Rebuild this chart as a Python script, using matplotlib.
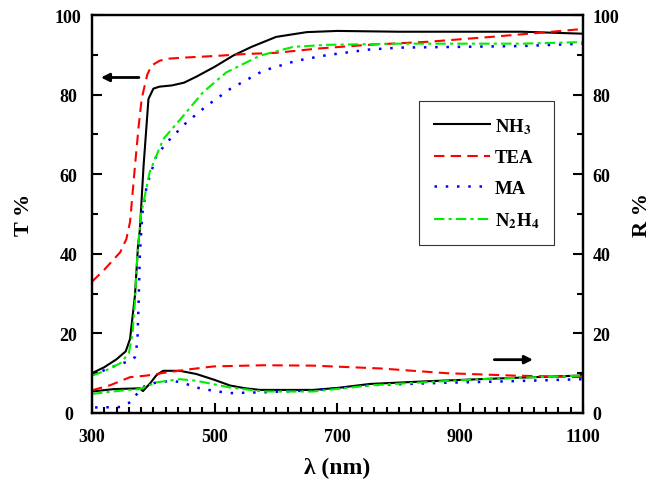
import matplotlib
matplotlib.use("Agg")
import matplotlib.pyplot as plt
from matplotlib.ticker import MultipleLocator, FixedLocator

plt.rcParams['font.family'] = 'Liberation Serif'
plt.rcParams['font.weight'] = 'bold'
plt.rcParams['mathtext.fontset'] = 'stix'

# transmittance (T %) curves
nh3_t_wl = [300, 320, 340, 355, 362, 370, 375, 378, 384, 392, 400, 410, 430, 450, 470, 500, 530, 560, 600, 650, 700, 800, 900, 1000, 1100]
nh3_t = [10, 11.5, 13.5, 15.5, 18.6, 29.5, 42, 46, 62, 78.9, 81.5, 82, 82.3, 83, 84.5, 87, 89.8, 92, 94.5, 95.7, 96, 95.8, 95.8, 95.8, 95.3]

tea_t_wl = [300, 320, 346, 356, 362, 370, 376, 381, 390, 397, 410, 422, 450, 500, 550, 600, 670, 750, 850, 950, 1050, 1100]
tea_t = [33, 36, 40.4, 43.7, 48, 62, 72, 79, 85, 87.3, 88.5, 89, 89.3, 89.7, 90.2, 90.5, 91.6, 92.5, 93.3, 94.5, 95.8, 96.5]

ma_t_wl = [300, 340, 360, 370, 374, 376, 378, 382, 389, 405, 422, 454, 487, 525, 579, 633, 682, 750, 800, 900, 1000, 1100]
ma_t = [9.5, 12, 13, 14, 18, 28, 40, 50, 57, 64.6, 68, 73, 77.2, 81.4, 86, 88.5, 89.9, 91.3, 91.8, 92, 92.2, 92.8]

n2h4_t_wl = [300, 320, 346, 360, 366, 370, 374, 380, 394, 416, 449, 481, 519, 574, 628, 682, 800, 900, 1000, 1100]
n2h4_t = [9.4, 10.5, 12.5, 15, 20, 28, 40, 50, 60.5, 68.8, 74.7, 80.6, 85.6, 89.8, 92, 92.5, 92.8, 92.8, 92.8, 93.2]

# reflectance (R %) curves
nh3_r_wl = [300, 335, 378, 383, 395, 405, 416, 443, 470, 500, 525, 550, 574, 620, 660, 700, 753, 850, 932, 1000, 1095, 1100]
nh3_r = [5.4, 6, 6.2, 5.5, 7.5, 9.5, 10.6, 10.6, 9.8, 8.3, 6.9, 6.2, 5.8, 5.8, 5.8, 6.3, 7.3, 8, 8.5, 8.9, 9.4, 10]

tea_r_wl = [300, 330, 362, 389, 422, 460, 498, 580, 660, 769, 878, 986, 1100]
tea_r = [5.7, 7, 9, 9.4, 10.2, 11, 11.7, 12, 11.9, 11.2, 10, 9.4, 9]

ma_r_wl = [305, 313, 346, 360, 367, 381, 405, 432, 450, 470, 500, 525, 579, 660, 753, 878, 986, 1100]
ma_r = [1.4, 1.4, 1.5, 2.5, 3.5, 6.4, 7.7, 8.1, 7.5, 6.4, 5.5, 5, 5.2, 5.7, 7, 7.6, 8, 8.5]

n2h4_r_wl = [300, 346, 378, 405, 443, 470, 525, 579, 660, 758, 932, 1100]
n2h4_r = [4.8, 5.6, 6, 7.7, 8.5, 8.1, 6.4, 5.4, 5.4, 7, 8.5, 9.4]

x_ticks = [300, 500, 700, 900, 1100]

fig = plt.figure(figsize=(6.58, 4.85), dpi=100)
ax = fig.add_axes([0.1398, 0.1464, 0.7462, 0.8206])
ax2 = ax.twinx()

lw = 1.5
solid = dict(color='black', lw=lw, linestyle='-')
dash = dict(color='red', lw=lw, linestyle=(0, (5, 3)))
dot = dict(color='blue', lw=lw + 0.3, linestyle=(0, (1, 3.5)))
dashdot = dict(color='#00ee00', lw=lw, linestyle=(0, (5, 2, 1.5, 2)))

ax.plot(nh3_t_wl, nh3_t, label='NH$_\\mathbf{3}$', **solid)
ax.plot(tea_t_wl, tea_t, label='TEA', **dash)
ax.plot(ma_t_wl, ma_t, label='MA', **dot)
ax.plot(n2h4_t_wl, n2h4_t, label='N$_\\mathbf{2}$H$_\\mathbf{4}$', **dashdot)

ax2.plot(nh3_r_wl, nh3_r, **solid)
ax2.plot(tea_r_wl, tea_r, **dash)
ax2.plot(ma_r_wl, ma_r, **dot)
ax2.plot(n2h4_r_wl, n2h4_r, **dashdot)

for a in (ax, ax2):
    a.set_xlim(300, 1100)
    a.set_ylim(0, 100)
    a.yaxis.set_major_locator(MultipleLocator(20))
    a.yaxis.set_minor_locator(MultipleLocator(10))
    for sp in a.spines.values():
        sp.set_linewidth(1.6)

ax.xaxis.set_major_locator(FixedLocator(x_ticks))
ax.xaxis.set_minor_locator(MultipleLocator(20))
ax.tick_params(axis='both', which='both', direction='in', width=1.5, labelsize=13)
ax.tick_params(which='major', length=7)
ax.tick_params(which='minor', length=4)
ax.tick_params(axis='x', pad=11)
ax.tick_params(axis='y', pad=17, right=False)
for t in ax.get_yticklabels():
    t.set_horizontalalignment('center')
ax2.tick_params(axis='y', which='both', direction='in', width=1.5, labelsize=13, pad=7)
ax2.tick_params(which='major', length=7)
ax2.tick_params(which='minor', length=4)

ax.set_xlabel('λ (nm)', fontsize=17, fontweight='bold', labelpad=8)
ax.set_ylabel('T %', fontsize=16, fontweight='bold', labelpad=15)
ax2.set_ylabel('R %', fontsize=16, fontweight='bold', labelpad=9)

# arrows pointing to the axis each group belongs to
ax.annotate('', xy=(310, 84.3), xytext=(381, 84.3),
            arrowprops=dict(arrowstyle='-|>', color='black', lw=2, mutation_scale=12))
ax2.annotate('', xy=(1023, 13.4), xytext=(951, 13.4),
             arrowprops=dict(arrowstyle='-|>', color='black', lw=2, mutation_scale=12))

leg = ax.legend(loc='upper left', bbox_to_anchor=(0.666, 0.784), borderaxespad=0,
                fontsize=13.5, handlelength=3.0, frameon=True, fancybox=False,
                borderpad=0.8, labelspacing=0.72, handletextpad=0.25)
leg.get_frame().set_edgecolor('black')
leg.get_frame().set_linewidth(0.8)

fig.savefig('out.png', dpi=100)
